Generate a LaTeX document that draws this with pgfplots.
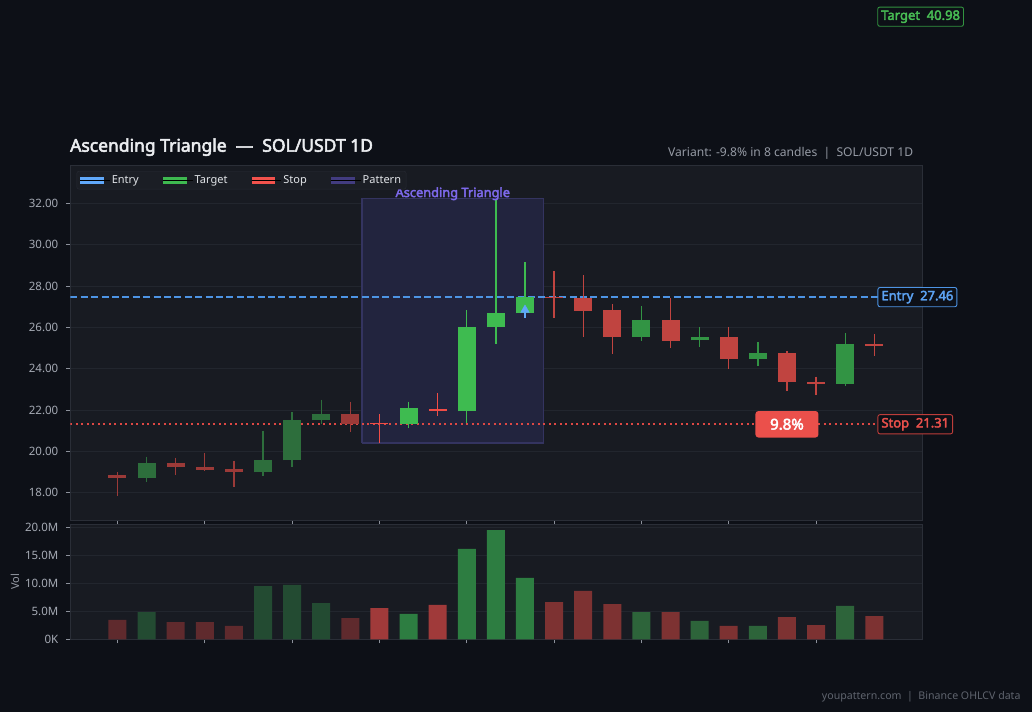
\documentclass[border=0pt]{standalone}
\usepackage{pgfplots}
\pgfplotsset{compat=1.18}
\usepackage{pgfplotstable}
\usepackage{fontspec}
\setmainfont{Noto Sans}[BoldFont={Noto Sans}, BoldFeatures={FakeBold=3}]

\definecolor{figbg}{RGB}{13,16,23}
\definecolor{axbg}{RGB}{24,27,34}
\definecolor{gridc}{RGB}{34,38,46}
\definecolor{framec}{RGB}{42,46,55}
\definecolor{tickc}{RGB}{140,145,155}
\definecolor{tickl}{RGB}{165,170,180}
\definecolor{titlec}{RGB}{235,237,240}
\definecolor{subc}{RGB}{150,155,165}
\definecolor{footc}{RGB}{95,100,110}
\definecolor{legbg}{RGB}{27,30,37}
\definecolor{legfr}{RGB}{40,43,52}
\definecolor{legtx}{RGB}{225,228,232}
\definecolor{entryc}{RGB}{77,148,228}
\definecolor{entryleg}{RGB}{96,168,250}
\definecolor{entrytx}{RGB}{92,162,242}
\definecolor{targetc}{RGB}{62,185,80}
\definecolor{targettx}{RGB}{72,188,84}
\definecolor{stopc}{RGB}{222,72,68}
\definecolor{stopleg}{RGB}{242,82,76}
\definecolor{stoptx}{RGB}{232,80,75}
\definecolor{pctc}{RGB}{235,80,75}
\definecolor{patleg}{RGB}{66,60,128}
\definecolor{patfill}{RGB}{34,36,62}
\definecolor{patedge}{RGB}{52,52,96}
\definecolor{patlab}{RGB}{125,105,235}
\definecolor{cEG}{RGB}{45,110,60}
\definecolor{cER}{RGB}{155,58,56}
\definecolor{cPG}{RGB}{62,187,80}
\definecolor{cPR}{RGB}{240,76,70}
\definecolor{cQG}{RGB}{50,148,68}
\definecolor{cQR}{RGB}{192,68,64}
\definecolor{vEG}{RGB}{35,75,50}
\definecolor{vER}{RGB}{95,42,45}
\definecolor{vPG}{RGB}{45,125,65}
\definecolor{vPR}{RGB}{160,58,58}
\definecolor{vQG}{RGB}{45,100,58}
\definecolor{vQR}{RGB}{125,50,50}

% i  open  high  low  close  volume(M)
\pgfplotstableread{
i o h l c v
1 18.70 19.75 18.50 19.45 4.87
5 18.98 21.00 18.80 19.60 9.52
6 19.56 21.90 19.22 21.52 9.70
7 21.50 22.50 21.33 21.80 6.48
}\earlyG
\pgfplotstableread{
i o h l c v
0 18.85 19.00 17.85 18.70 3.45
2 19.45 19.70 18.85 19.22 3.09
3 19.25 19.93 19.03 19.12 3.09
4 19.15 19.55 18.30 18.98 2.38
8 21.80 22.40 20.95 21.33 3.80
}\earlyR
\pgfplotstableread{
i o h l c v
10 21.30 22.40 21.15 22.10 4.52
12 21.93 26.83 21.38 26.00 16.13
13 26.00 32.15 25.20 26.68 19.52
14 26.67 29.15 26.45 27.46 10.95
}\patG
\pgfplotstableread{
i o h l c v
9 21.37 21.80 20.40 21.30 5.59
11 22.06 22.83 21.72 21.93 6.13
}\patR
\pgfplotstableread{
i o h l c v
18 25.55 27.03 25.34 26.35 4.87
20 25.37 26.00 25.05 25.53 3.27
22 24.48 25.30 24.13 24.76 2.38
25 23.28 25.72 23.14 25.19 5.95
}\postG
\pgfplotstableread{
i o h l c v
15 27.47 28.72 26.45 27.40 6.66
16 27.40 28.52 25.55 26.80 8.63
17 26.82 27.12 24.73 25.55 6.30
19 26.35 27.40 25.00 25.35 4.87
21 25.53 26.00 24.00 24.48 2.38
23 24.76 24.86 22.90 23.37 3.98
24 23.36 23.62 22.71 23.24 2.55
26 25.18 25.68 24.61 25.08 4.16
}\postR

\pgfplotsset{
  common/.style={
    scale only axis, anchor=south west, width=852pt,
    xmin=-1.62, xmax=27.65,
    axis background/.style={fill=axbg},
    axis line style={draw=framec, line width=0.8pt},
    xtick={0,3,...,24}, xticklabels={},
    xtick pos=bottom, ytick pos=left,
    tick align=outside, major tick length=4pt,
    tick style={draw=tickc, line width=0.8pt},
    ymajorgrids, grid style={draw=gridc, line width=0.8pt},
    yticklabel style={font=\fontsize{11.5}{13}\selectfont, text=tickl, xshift=-4.5pt},
  },
  wick/.style={draw=none, mark=none, forget plot,
    error bars/.cd, y dir=minus, y explicit, error mark=none,
    error bar style={draw=#1, line width=1.3pt}},
  body/.style={draw=none, mark=none, forget plot,
    error bars/.cd, y dir=both, y explicit, error mark=none,
    error bar style={draw=#1, line width=18pt}},
  vbar/.style={ybar, bar width=18pt, bar shift=0pt, fill=#1, draw=none, forget plot},
}

\newcommand{\candles}[2]{%
  \addplot[wick=#2] table[x=i, y=h, y error minus expr=\thisrow{h}-\thisrow{l}] {#1};
  \addplot[body=#2] table[x=i, y=o,
     y error plus expr={max(\thisrow{c}-\thisrow{o},0)},
     y error minus expr={max(\thisrow{o}-\thisrow{c},0)}] {#1};
}

\newcommand{\legpatch}[1]{\addlegendimage{legend image code/.code={%
  \fill[#1, sharp corners] (0pt,-3.3pt) rectangle (22.7pt,3.3pt); \path (0pt,0pt) -- (29.5pt,0pt);}}}

\begin{document}
\begin{tikzpicture}
\path[use as bounding box, fill=figbg] (0pt,0pt) rectangle (1032pt,712pt);

\begin{axis}[common, at={(70.3pt,192pt)}, height=355pt,
  ymin=16.68, ymax=33.85,
  ytick={18,20,...,32},
  yticklabels={18.00,20.00,22.00,24.00,26.00,28.00,30.00,32.00},
  clip mode=individual,
  legend style={at={(axis description cs:0.0075,0.983)}, anchor=north west,
    fill=legbg, draw=legfr, text=legtx, rounded corners=2pt,
    font=\fontsize{11}{12}\selectfont, inner xsep=3pt, inner ysep=2.2pt,
    /tikz/every even column/.append style={column sep=22pt}},
  legend columns=4, legend cell align=left,
]
\legpatch{entryleg}
\addlegendentry{Entry}
\legpatch{targetc}
\addlegendentry{Target}
\legpatch{stopleg}
\addlegendentry{Stop}
\legpatch{patleg}
\addlegendentry{Pattern}

% pattern zone
\addplot[fill=patfill, draw=patedge, line width=1.2pt, forget plot]
  coordinates {(8.4,20.40) (14.64,20.40) (14.64,32.23) (8.4,32.23) (8.4,20.40)};

% entry / stop levels
\addplot[entryc, line width=1.6pt, dash pattern=on 7pt off 3.4pt, forget plot]
  coordinates {(-1.62,27.46) (27.65,27.46)};
\addplot[stopc, line width=1.6pt, dash pattern=on 2pt off 3.5pt, forget plot]
  coordinates {(-1.62,21.31) (27.65,21.31)};

\candles{\earlyG}{cEG}
\candles{\earlyR}{cER}
\candles{\patG}{cPG}
\candles{\patR}{cPR}
\candles{\postG}{cQG}
\candles{\postR}{cQR}

% entry marker
\addplot[entryleg, line width=2pt, forget plot] coordinates {(14,26.72) (14,26.44)};
\addplot[only marks, mark=triangle*, mark size=5pt, color=entryleg, forget plot]
  coordinates {(14,26.84)};

\node[anchor=base, text=patlab, font=\bfseries\fontsize{12.8}{14}\selectfont]
  at (axis cs:11.52,32.30) {Ascending Triangle};
\node[anchor=west, draw=entryc, fill=figbg, text=entrytx, rounded corners=2pt,
  line width=0.9pt, inner xsep=3.5pt, minimum height=18.4pt,
  font=\bfseries\fontsize{13}{14}\selectfont] at (axis cs:26.11,27.46) {Entry\ \ 27.46};
\node[anchor=west, draw=stopc!85!black, fill=figbg, text=stoptx, rounded corners=2pt,
  line width=0.9pt, inner xsep=3.5pt, minimum height=19pt,
  font=\bfseries\fontsize{13}{14}\selectfont] at (axis cs:26.11,21.31) {Stop\ \ 21.31};
\node[fill=pctc, text=white, rounded corners=3pt, minimum width=63pt, minimum height=26.5pt,
  inner sep=0pt, font=\bfseries\fontsize{15}{17}\selectfont] at (axis cs:23.0,21.31) {9.8\%};
\end{axis}

\begin{axis}[common, at={(70.3pt,72.7pt)}, height=115pt,
  ymin=0, ymax=20.54,
  ytick={0,5,10,15,20},
  yticklabels={0K,5.0M,10.0M,15.0M,20.0M},
  ylabel={Vol},
  ylabel style={at={(axis description cs:-0.065,0.5)}, anchor=center,
    text=subc, font=\fontsize{11}{12}\selectfont},
]
\addplot[vbar=vEG] table[x=i, y=v] {\earlyG};
\addplot[vbar=vER] table[x=i, y=v] {\earlyR};
\addplot[vbar=vPG] table[x=i, y=v] {\patG};
\addplot[vbar=vPR] table[x=i, y=v] {\patR};
\addplot[vbar=vQG] table[x=i, y=v] {\postG};
\addplot[vbar=vQR] table[x=i, y=v] {\postR};
\end{axis}

\node[anchor=base west, inner sep=0pt, text=titlec, font=\bfseries\fontsize{17.5}{20}\selectfont]
  at (70pt,560.3pt) {Ascending Triangle\ \ —\ \ SOL/USDT 1D};
\node[anchor=base east, inner sep=0pt, text=subc, font=\fontsize{12.1}{14}\selectfont]
  at (913.3pt,555.3pt) {Variant: -9.8\% in 8 candles\ \ |\ \ SOL/USDT 1D};
\node[anchor=base east, inner sep=0pt, text=footc, font=\fontsize{10.6}{12}\selectfont]
  at (1020.7pt,12.7pt) {youpattern.com\ \ |\ \ Binance OHLCV data};
\node[anchor=west, draw=targetc!80!black, fill=figbg, text=targettx, rounded corners=2pt,
  line width=0.9pt, inner xsep=3.5pt, minimum height=18.7pt,
  font=\bfseries\fontsize{13}{14}\selectfont] at (877.3pt,695.3pt) {Target\ \ 40.98};
\end{tikzpicture}
\end{document}
